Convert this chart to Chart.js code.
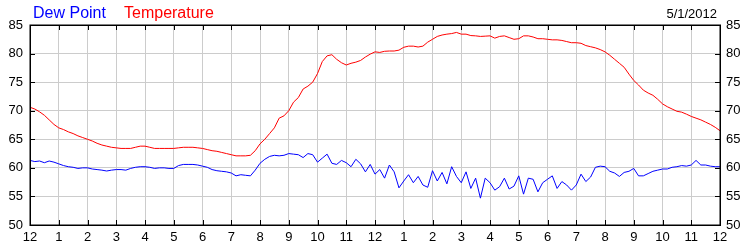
<!DOCTYPE html>
<html>
<head>
<meta charset="utf-8">
<script src="https://cdn.jsdelivr.net/npm/chart.js@4.4.0/dist/chart.umd.min.js"></script>
<style>
  html, body { margin: 0; padding: 0; background: #fff; }
  #wrap { width: 750px; height: 250px; }
</style>
</head>
<body>
<div id="wrap"><canvas id="wxChart" width="750" height="250"></canvas></div>
<script>
// one reading every 10 minutes, midnight to midnight
const stepMinutes = 10;
const hourLabels = ['12','1','2','3','4','5','6','7','8','9','10','11','12','1','2','3','4','5','6','7','8','9','10','11','12'];
const dateLabel = '5/1/2012';
const seriesNames = ['Dew Point', 'Temperature'];

const tempValues = [
  70.6, 70.3, 69.8, 69.2, 68.4, 67.6, 67.0, 66.7, 66.3, 66.0, 65.6, 65.3,
  65.0, 64.7, 64.3, 64.0, 63.8, 63.6, 63.5, 63.4, 63.4, 63.4, 63.6, 63.8,
  63.8, 63.6, 63.4, 63.4, 63.4, 63.4, 63.4, 63.5, 63.6, 63.6, 63.6, 63.5,
  63.4, 63.2, 63.0, 62.9, 62.7, 62.5, 62.3, 62.1, 62.1, 62.1, 62.2, 63.0,
  64.2, 65.0, 66.0, 67.0, 68.7, 69.1, 70.0, 71.5, 72.3, 73.8, 74.3, 75.0,
  76.5, 78.6, 79.6, 79.8, 79.0, 78.4, 78.0, 78.3, 78.5, 78.8, 79.4, 79.9,
  80.3, 80.2, 80.4, 80.45, 80.45, 80.6, 81.1, 81.3, 81.3, 81.15, 81.3, 82.0,
  82.5, 83.0, 83.25, 83.4, 83.5, 83.7, 83.4, 83.4, 83.15, 83.1, 83.0, 83.05,
  83.1, 82.7, 83.0, 83.1, 82.8, 82.5, 82.6, 83.1, 83.1, 82.9, 82.6, 82.6,
  82.5, 82.4, 82.4, 82.3, 82.1, 81.9, 81.9, 81.8, 81.4, 81.2, 81.0, 80.7,
  80.3, 79.7, 79.0, 78.3, 77.6, 76.4, 75.3, 74.5, 73.6, 73.1, 72.7, 72.0,
  71.2, 70.7, 70.3, 69.9, 69.75, 69.4, 69.0, 68.7, 68.4, 68.0, 67.6, 67.1,
  66.5
];

const dewValues = [
  61.3, 61.1, 61.2, 60.9, 61.2, 61.0, 60.7, 60.4, 60.2, 60.1, 59.9, 60.0,
  60.0, 59.8, 59.7, 59.6, 59.45, 59.6, 59.7, 59.7, 59.6, 59.9, 60.1, 60.2,
  60.2, 60.1, 59.9, 60.0, 60.0, 59.9, 59.9, 60.4, 60.6, 60.6, 60.6, 60.5,
  60.3, 60.1, 59.7, 59.5, 59.4, 59.3, 59.1, 58.6, 58.8, 58.7, 58.6, 59.6,
  60.8, 61.5, 62.0, 62.2, 62.1, 62.2, 62.5, 62.4, 62.3, 61.8, 62.5, 62.3,
  61.0, 61.7, 62.4, 60.8, 60.6, 61.3, 60.9, 60.2, 61.5, 60.7, 59.3, 60.6,
  58.9, 59.7, 58.2, 60.5, 59.3, 56.5, 57.7, 58.8, 57.4, 58.5, 57.0, 56.6,
  59.5, 57.7, 59.2, 57.2, 60.2, 58.5, 57.4, 59.3, 56.4, 58.2, 54.7, 58.2,
  57.4, 56.1, 56.7, 58.2, 56.3, 56.8, 58.6, 55.4, 58.2, 58.0, 55.8, 57.4,
  58.0, 58.6, 56.4, 57.6, 57.0, 56.1, 57.0, 58.9, 57.6, 58.4, 60.1, 60.3,
  60.2, 59.4, 59.1, 58.5, 59.2, 59.4, 59.9, 58.6, 58.6, 59.0, 59.4, 59.6,
  59.8, 59.8, 60.1, 60.2, 60.4, 60.3, 60.5, 61.3, 60.5, 60.5, 60.3, 60.2,
  60.2
];

const yMin = 50, yMax = 85, yStep = 5;

function toPoints(values) {
    return values.map((v, i) => ({ x: i * stepMinutes / 60, y: v }));
}

Chart.defaults.font.family = '"Liberation Sans", Arial, sans-serif';
Chart.defaults.color = '#000';

// black frame, inward tick marks, legend text and date
const framePlugin = {
    id: 'frame',
    afterDatasetsDraw(chart) {
        const ctx = chart.ctx;
        const a = chart.chartArea;
        const xs = chart.scales.x;
        const ys = chart.scales.y;
        ctx.save();
        ctx.strokeStyle = '#000';
        ctx.lineWidth = 1;
        ctx.beginPath();
        for (let h = 1; h < hourLabels.length - 1; h++) {
            const px = Math.round(xs.getPixelForValue(h)) + 0.5;
            ctx.moveTo(px, a.bottom); ctx.lineTo(px, a.bottom - 5);
            ctx.moveTo(px, a.top); ctx.lineTo(px, a.top + 5);
        }
        for (let v = yMin + yStep; v < yMax; v += yStep) {
            const py = Math.round(ys.getPixelForValue(v)) + 0.5;
            ctx.moveTo(a.left, py); ctx.lineTo(a.left + 5, py);
            ctx.moveTo(a.right, py); ctx.lineTo(a.right - 5, py);
        }
        ctx.stroke();
        ctx.lineWidth = 1.5;
        ctx.strokeRect(Math.round(a.left) + 0.25, Math.round(a.top) + 0.25,
                       Math.round(a.right - a.left), Math.round(a.bottom - a.top));

        ctx.textBaseline = 'alphabetic';
        ctx.font = '16px "Liberation Sans", Arial, sans-serif';
        ctx.fillStyle = '#0000ff';
        ctx.fillText(seriesNames[0], 33, 17.5);
        ctx.fillStyle = '#ff0000';
        ctx.fillText(seriesNames[1], 124, 17.5);
        ctx.font = '13px "Liberation Sans", Arial, sans-serif';
        ctx.fillStyle = '#000';
        ctx.textAlign = 'right';
        ctx.fillText(dateLabel, 717, 17.5);
        ctx.restore();
    }
};

const yTicks = {
    stepSize: yStep,
    font: { size: 13 },
    color: '#000'
};

new Chart(document.getElementById('wxChart').getContext('2d'), {
    type: 'line',
    data: {
        datasets: [{
            label: seriesNames[0],
            data: toPoints(dewValues),
            borderColor: '#0000ff',
            borderWidth: 1,
            pointRadius: 0,
            tension: 0
        }, {
            label: seriesNames[1],
            data: toPoints(tempValues),
            borderColor: '#ff0000',
            borderWidth: 1,
            pointRadius: 0,
            tension: 0
        }]
    },
    options: {
        responsive: false,
        animation: false,
        devicePixelRatio: 1,
        layout: { padding: { top: 25, left: 0, right: 0, bottom: 0 } },
        plugins: {
            legend: { display: false },
            tooltip: { enabled: false }
        },
        scales: {
            x: {
                type: 'linear',
                min: 0,
                max: 24,
                afterFit: s => { s.height = 25; },
                border: { display: false },
                grid: { color: '#cccccc', lineWidth: 1, drawTicks: false },
                ticks: {
                    stepSize: 1,
                    autoSkip: false,
                    maxRotation: 0,
                    padding: 5,
                    font: { size: 13 },
                    color: '#000',
                    callback: v => hourLabels[v]
                }
            },
            y: {
                position: 'left',
                min: yMin,
                max: yMax,
                afterFit: s => { s.width = 30; },
                border: { display: false },
                grid: { color: '#cccccc', lineWidth: 1, drawTicks: false },
                ticks: Object.assign({ padding: 7 }, yTicks)
            },
            y2: {
                position: 'right',
                min: yMin,
                max: yMax,
                afterFit: s => { s.width = 30; },
                border: { display: false },
                grid: { display: false, drawTicks: false },
                ticks: Object.assign({ padding: 6 }, yTicks)
            }
        }
    },
    plugins: [framePlugin]
});
</script>
</body>
</html>
